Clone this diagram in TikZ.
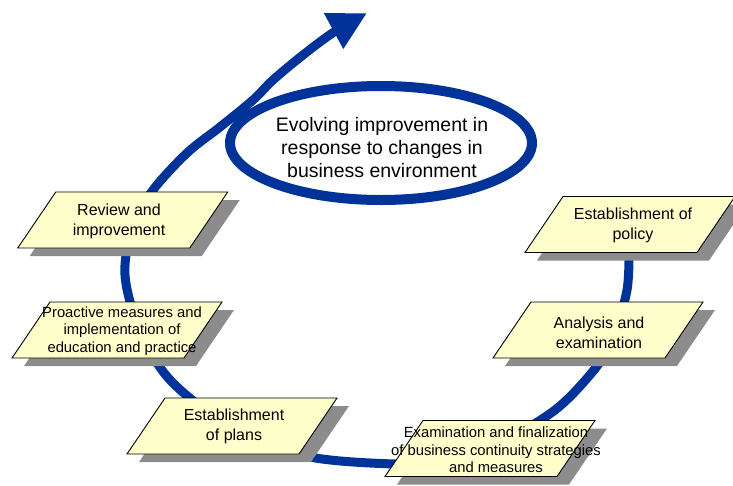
\documentclass[tikz,border=0pt]{standalone}
\usepackage{fontspec}
\setmainfont{Liberation Sans}
\usetikzlibrary{arrows.meta,shapes.geometric}
\definecolor{cycblue}{RGB}{0,51,153}
\definecolor{boxfill}{RGB}{255,255,204}
\definecolor{shadowgray}{RGB}{140,140,140}
\tikzset{
  boxstyle/.style={draw=black, fill=boxfill, line width=0.9pt, line join=miter},
  boxtext/.style={align=center, inner sep=0pt, text=black},
  cyclepath/.style={draw=cycblue, line width=9pt, -{Triangle[length=38pt,width=38pt]}},
  evolvebox/.style={ellipse, draw=cycblue, fill=white, line width=10pt, inner sep=0pt, minimum width=302pt, minimum height=114pt}
}
\newcommand\pbox[7]{%
  \begin{scope}[shift={(#2,#3)}]
    \fill[shadowgray] (-55,-20) -- (117,-20) -- (79,36) -- (-93,36) -- cycle;
    \draw[boxstyle] (-67,-28) -- (105,-28) -- (67,28) -- (-105,28) -- cycle;
  \end{scope}
  \node[boxtext,font=#6] (#1) at (#4,#5) {#7};
}
\newcommand\bigf{\fontsize{16}{20}\selectfont}
\newcommand\smallf{\fontsize{14.8}{17.5}\selectfont}
\newcommand\ellf{\fontsize{19.5}{23}\selectfont}
\begin{document}
\begin{tikzpicture}[x=1pt,y=-1pt]
\useasboundingbox (0,0) rectangle (733,485);
\clip (0,0) rectangle (733,485);
% ellipse node
\node[evolvebox] (evolve) at (381,143) {};
% main cycle
\draw[cyclepath] plot[smooth, tension=0.55] coordinates {
 (629,245) (627,290) (612,340) (594,370) (555,410) (500,442) (440,461)
 (395,464) (310,457) (240,433) (172,382) (140,330) (125,275) (133,225)
 (153,190) (187,153) (220,127) (253,100) (273,80) (303,55) (334,32) (367,13)};
\node[boxtext,font=\ellf] (evolvetext) at (382,148)
  {Evolving improvement in\\response to changes in\\business environment};
% boxes
\pbox{review}{122.75}{220}{119}{221}{\bigf}{Review and\\improvement}
\pbox{proactive}{117}{330}{122}{331}{\smallf}{Proactive measures and\\implementation of\\education and practice}
\pbox{plans}{232}{426}{234}{426.5}{\bigf}{Establishment\\of plans}
\pbox{exam}{490}{448.5}{496}{450}{\smallf}{Examination and finalization\\of business continuity strategies\\and measures}
\pbox{policy}{630}{224.5}{633}{225}{\bigf}{Establishment of\\policy}
\pbox{analysis}{598}{330}{599}{333}{\bigf}{Analysis and\\examination}
\end{tikzpicture}
\end{document}
